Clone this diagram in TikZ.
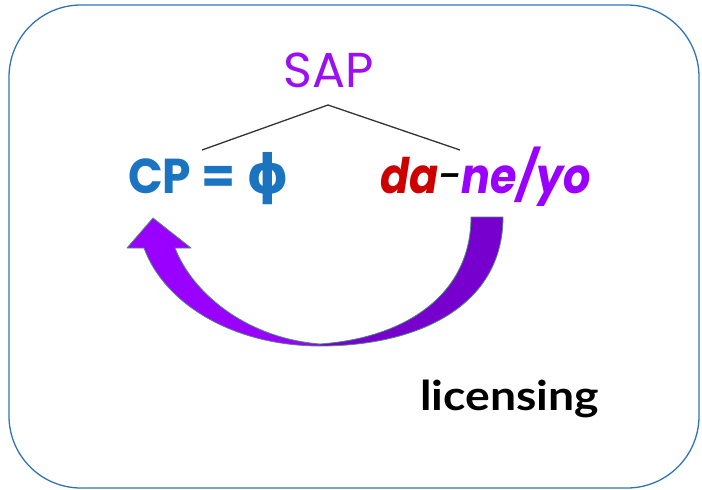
\documentclass[tikz,border=0pt]{standalone}
\usepackage{fontspec}
\setmainfont{Poppins}
\newfontfamily\grk{DejaVu Sans}
\newfontfamily\lab{Lato}
\definecolor{frame}{HTML}{2E75B6}
\definecolor{sapviolet}{HTML}{9A10F2}
\definecolor{cpblue}{HTML}{1B74C0}
\definecolor{dared}{HTML}{CC0000}
\definecolor{arrowlight}{HTML}{9900FF}
\definecolor{arrowdark}{HTML}{7800CE}
\definecolor{arrowedge}{HTML}{4F8A7C}
\tikzset{
  x=1pt, y=-1pt,
  label text/.style={inner sep=0pt, outer sep=0pt},
  branch/.style={draw=black!80, line width=1.3pt},
}
\begin{document}
\begin{tikzpicture}
\useasboundingbox (0,0) rectangle (702,490);
\fill[white] (0,0) rectangle (702,490);
% outer frame
\draw[frame, line width=1.3pt, rounded corners=72pt] (9,5) rectangle (699,488);

% tree labels
\node[label text, anchor=base, text=sapviolet, font=\fontsize{49}{49}\selectfont] (sap) at (329,87) {SAP};
\node[label text, anchor=base west, text=cpblue, font=\bfseries\fontsize{49}{49}\selectfont] (cp) at (128,193)
  {\scalebox{0.93}[1]{CP} = {\grk\bfseries\fontsize{54}{54}\selectfont ϕ}};
\node[label text, anchor=base west, font=\bfseries\itshape\fontsize{49}{49}\selectfont] (dny) at (380,193)
  {\scalebox{0.875}[1]{\textcolor{dared}{da}\textcolor{black}{\mdseries-}\textcolor{arrowlight}{ne/yo}}};
\node[label text, anchor=base west, font=\lab\bfseries\fontsize{41}{41}\selectfont] (lic) at (420,410) {\scalebox{1.13}[1]{licensing}};

% branches
\coordinate (apex) at (328,105);
\coordinate (cptop) at (202,150);
\coordinate (dnytop) at (460,150);
\draw[branch] (cptop) -- (apex) -- (dnytop);

% curved licensing arrow
\coordinate (ro) at (503,217);
\coordinate (ri) at (471,217);
\coordinate (bot) at (320,346);
\coordinate (lo) at (144,248);
\coordinate (li) at (175,248);
\coordinate (hl) at (127,248);
\coordinate (hr) at (191,248);
\coordinate (tip) at (153,218);
\def\arrowpath{(ro) .. controls (503,305) and (420,346) .. (bot)
  .. controls (235,346) and (165,305) .. (lo) -- (hl) -- (tip) -- (hr) -- (li)
  .. controls (192,292) and (245,338) .. (320,344)
  .. controls (405,338) and (471,295) .. (ri) -- cycle}
\begin{scope}
  \clip \arrowpath;
  \fill[arrowlight] (100,200) rectangle (320,360);
  \fill[arrowdark] (320,200) rectangle (520,360);
\end{scope}
\draw[arrowedge, line width=0.8pt, line join=round] \arrowpath;
\end{tikzpicture}
\end{document}
